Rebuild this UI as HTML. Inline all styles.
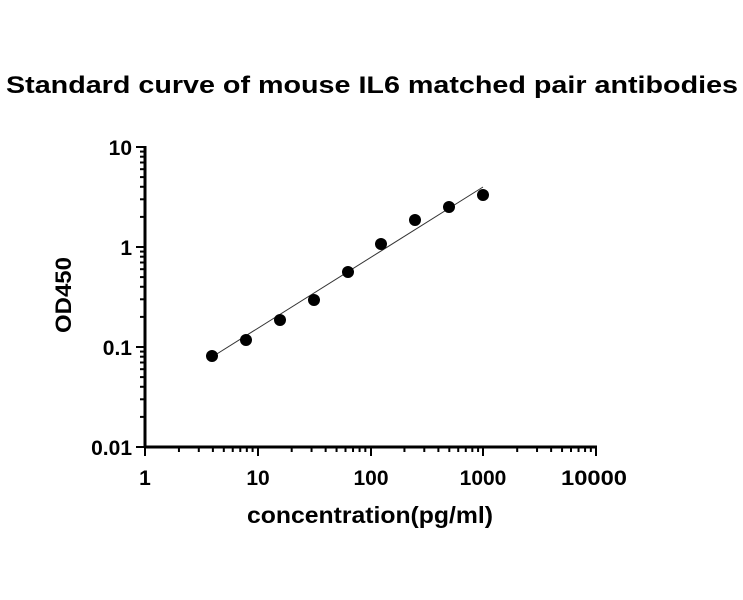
<!DOCTYPE html>
<html><head><style>
body{margin:0;background:#fff;}
svg text{font-family:"Liberation Sans",Arial,sans-serif;font-weight:bold;fill:#000;}
</style></head><body>
<svg width="743" height="595" viewBox="0 0 743 595" xmlns="http://www.w3.org/2000/svg">
<text x="6" y="93" font-size="24" textLength="732" lengthAdjust="spacingAndGlyphs">Standard curve of mouse IL6 matched pair antibodies</text>
<g stroke="#000" stroke-width="3" fill="none">
<line x1="145" y1="146" x2="145" y2="448"/>
<line x1="144" y1="447" x2="597" y2="447"/>
</g>
<g stroke="#000" stroke-width="2">
<line x1="136" y1="147" x2="145" y2="147"/>
<line x1="136" y1="247" x2="145" y2="247"/>
<line x1="136" y1="347" x2="145" y2="347"/>
<line x1="136" y1="447" x2="145" y2="447"/>
<line x1="258" y1="447" x2="258" y2="456"/><line x1="371" y1="447" x2="371" y2="456"/>
<line x1="483" y1="447" x2="483" y2="456"/><line x1="596" y1="447" x2="596" y2="456"/>
<line x1="145" y1="447" x2="145" y2="456"/>
</g>
<g stroke="#333" stroke-width="1"><line x1="212" y1="357" x2="483" y2="187"/></g>
<g fill="#000">
<circle cx="212" cy="356" r="6"/><circle cx="246" cy="340" r="6"/><circle cx="280" cy="320" r="6"/>
<circle cx="314" cy="300" r="6"/><circle cx="348" cy="272" r="6"/><circle cx="381" cy="244" r="6"/>
<circle cx="415" cy="220" r="6"/><circle cx="449" cy="207" r="6"/><circle cx="483" cy="195" r="6"/>
</g>
<g font-size="21">
<text x="132" y="155" text-anchor="end">10</text>
<text x="132" y="255" text-anchor="end">1</text>
<text x="132" y="355" text-anchor="end">0.1</text>
<text x="132" y="455" text-anchor="end">0.01</text>
<text x="145" y="485" text-anchor="middle">1</text>
<text x="258" y="485" text-anchor="middle">10</text>
<text x="371" y="485" text-anchor="middle">100</text>
<text x="483" y="485" text-anchor="middle">1000</text>
<text x="594" y="485" text-anchor="middle" textLength="66" lengthAdjust="spacingAndGlyphs">10000</text>
</g>
<text x="370" y="523" font-size="23" text-anchor="middle" textLength="246" lengthAdjust="spacingAndGlyphs">concentration(pg/ml)</text>
<text transform="translate(71,295) rotate(-90)" font-size="22" text-anchor="middle" textLength="76" lengthAdjust="spacingAndGlyphs">OD450</text>
<g stroke="#000" stroke-width="2" id="mn"></g>
</svg>
<script>
var g=document.getElementById('mn'),ns='http://www.w3.org/2000/svg';
function L(a,b,c,d){var l=document.createElementNS(ns,'line');l.setAttribute('x1',a);l.setAttribute('y1',b);l.setAttribute('x2',c);l.setAttribute('y2',d);g.appendChild(l);}
for(var d=0;d<4;d++)for(var k=2;k<10;k++){
var x=145+(d+Math.log10(k))*112.75;L(x,447,x,452);
if(d<3){var y=447-(d+Math.log10(k))*100;L(140,y,145,y);}}
</script>
</body></html>
